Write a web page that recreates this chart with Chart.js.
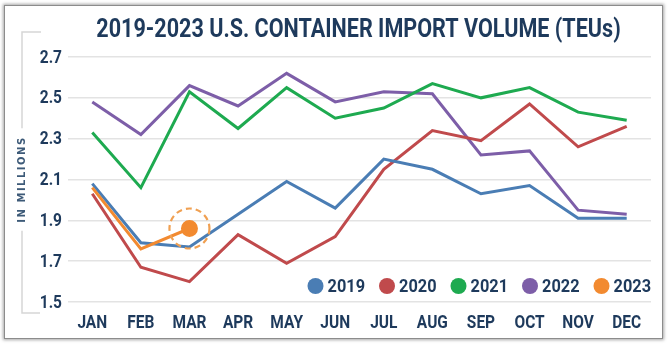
<!DOCTYPE html>
<html>
<head>
<meta charset="utf-8">
<script src="https://cdn.jsdelivr.net/npm/chart.js@4/dist/chart.umd.min.js"></script>
<style>
  html, body { margin: 0; padding: 0; background: #ffffff; }
  #wrap { position: relative; width: 669px; height: 344px; overflow: hidden; }
  #card {
    position: absolute; left: 4px; top: 5px; width: 657px; height: 332px;
    background: #fff; border: 1px solid #8c8c8c;
    box-shadow: 0 0 3px 1px rgba(0,0,0,0.35);
  }
  #chart { position: absolute; left: 0; top: 0; }
</style>
</head>
<body>
<div id="wrap">
  <div id="card"></div>
  <canvas id="chart" width="669" height="344"></canvas>
</div>
<script>
const months = ['JAN', 'FEB', 'MAR', 'APR', 'MAY', 'JUN', 'JUL', 'AUG', 'SEP', 'OCT', 'NOV', 'DEC'];
const years = ['2019', '2020', '2021', '2022', '2023'];

// TEUs, millions
const teu2019 = [2.08, 1.79, 1.77, 1.93, 2.09, 1.96, 2.20, 2.15, 2.03, 2.07, 1.91, 1.91];
const teu2020 = [2.03, 1.67, 1.60, 1.83, 1.69, 1.82, 2.15, 2.34, 2.29, 2.47, 2.26, 2.36];
const teu2021 = [2.33, 2.06, 2.53, 2.35, 2.55, 2.40, 2.45, 2.57, 2.50, 2.55, 2.43, 2.39];
const teu2022 = [2.48, 2.32, 2.56, 2.46, 2.62, 2.48, 2.53, 2.52, 2.22, 2.24, 1.95, 1.93];
const teu2023 = [2.06, 1.76, 1.86];

const yTicks = [1.5, 1.7, 1.9, 2.1, 2.3, 2.5, 2.7];

const titleText = '2019-2023 U.S. CONTAINER IMPORT VOLUME (TEUs)';
const lineColors = ['#4a7db4', '#c04a4c', '#1eaa50', '#7d5ea8', '#f28a30'];
const navy = '#1e3a5c';
const font = 'Roboto, "Liberation Sans", sans-serif';
const squeeze = 0.86;   // poor man's condensed face

const series = [teu2019, teu2020, teu2021, teu2022, teu2023];

// latest month of 2023 gets a dot and a dashed ring
const lastIdx = teu2023.length - 1;

const datasets = series.map((vals, i) => ({
  label: years[i],
  data: vals,
  borderColor: lineColors[i],
  backgroundColor: lineColors[i],
  borderWidth: 3,
  tension: 0,
  pointRadius: i === 4 ? vals.map((v, k) => k === lastIdx ? 7 : 0) : 0,
  pointHoverRadius: 0,
  order: i === 4 ? 0 : i + 1
}));

function narrowText(ctx, text, x, y, align, sx) {
  ctx.save();
  ctx.translate(x, y);
  ctx.scale(sx, 1);
  ctx.textAlign = align;
  ctx.fillText(text, 0, 0);
  ctx.restore();
}

const extras = {
  id: 'extras',
  afterDatasetsDraw(chart) {
    const ctx = chart.ctx;
    // dashed ring around the newest 2023 point
    const pt = chart.getDatasetMeta(4).data[lastIdx];
    ctx.save();
    ctx.strokeStyle = '#f0a052';
    ctx.lineWidth = 2.2;
    ctx.setLineDash([6, 4]);
    ctx.beginPath();
    ctx.arc(pt.x, pt.y, 20, 0, Math.PI * 2);
    ctx.stroke();
    ctx.restore();
  },
  afterDraw(chart) {
    const ctx = chart.ctx;
    const area = chart.chartArea;
    const xs = chart.scales.x, ys = chart.scales.y;

    // title
    ctx.save();
    ctx.fillStyle = navy;
    ctx.font = 'bold 26px ' + font;
    ctx.textBaseline = 'alphabetic';
    narrowText(ctx, titleText, (area.left + area.right) / 2 - 1, 37, 'center', 0.83);

    // tick labels, squeezed
    ctx.font = 'bold 18px ' + font;
    ctx.textBaseline = 'middle';
    xs.ticks.forEach((t, i) => {
      narrowText(ctx, months[i], xs.getPixelForTick(i), area.bottom + 21, 'center', squeeze);
    });
    yTicks.forEach(v => {
      narrowText(ctx, v.toFixed(1), area.left - 6, ys.getPixelForValue(v) + 1, 'right', squeeze);
    });
    ctx.restore();

    // legend inside the plot, right aligned
    ctx.save();
    ctx.font = 'bold 19px ' + font;
    ctx.textBaseline = 'middle';
    const ly = area.bottom - 16;
    const r = 8, gap = 4, spacing = 14;
    let x = area.right;
    for (let i = years.length - 1; i >= 0; i--) {
      const w = ctx.measureText(years[i]).width * squeeze;
      ctx.fillStyle = navy;
      narrowText(ctx, years[i], x, ly + 1, 'right', squeeze);
      x -= w + gap;
      ctx.fillStyle = lineColors[i];
      ctx.beginPath();
      ctx.arc(x - r, ly, r, 0, Math.PI * 2);
      ctx.fill();
      x -= 2 * r + spacing;
    }
    ctx.restore();

    // "IN MILLIONS" bracket on the left
    const bx = 22;
    const midY = (area.top + area.bottom) / 2;
    ctx.save();
    ctx.font = 'bold 10px "DejaVu Sans", sans-serif';
    ctx.letterSpacing = '1.5px';
    const label = 'IN MILLIONS';
    const tw = ctx.measureText(label).width;
    ctx.translate(bx, midY);
    ctx.rotate(-Math.PI / 2);
    ctx.fillStyle = '#3d5a78';
    ctx.textAlign = 'center';
    ctx.textBaseline = 'middle';
    ctx.fillText(label, 0, 0);
    ctx.restore();

    ctx.save();
    ctx.strokeStyle = '#d6d6d6';
    ctx.lineWidth = 1.5;
    ctx.beginPath();
    ctx.moveTo(bx + 19, area.top - 25);
    ctx.lineTo(bx, area.top - 25);
    ctx.lineTo(bx, midY - tw / 2 - 8);
    ctx.moveTo(bx, midY + tw / 2 + 8);
    ctx.lineTo(bx, area.bottom + 11);
    ctx.lineTo(bx + 18, area.bottom + 11);
    ctx.stroke();
    ctx.restore();
  }
};

new Chart(document.getElementById('chart'), {
  type: 'line',
  data: { labels: months, datasets },
  plugins: [extras],
  options: {
    responsive: false,
    animation: false,
    events: [],
    layout: { padding: { top: 57, right: 18, bottom: 0, left: 0 } },
    plugins: {
      legend: { display: false },
      tooltip: { enabled: false },
      title: { display: false }
    },
    scales: {
      x: {
        offset: true,
        grid: { display: false, drawTicks: false },
        border: { display: false },
        afterFit(scale) { scale.height = 42; },
        ticks: {
          color: 'rgba(0,0,0,0)',
          font: { family: font, size: 18, weight: 'bold' },
          padding: 10,
          maxRotation: 0,
          autoSkip: false
        }
      },
      y: {
        min: yTicks[0],
        max: yTicks[yTicks.length - 1],
        afterBuildTicks(scale) {
          scale.ticks = yTicks.map(v => ({ value: v }));
        },
        afterFit(scale) { scale.width = 68; },
        grid: { color: '#e3e3e3', lineWidth: 1.5, drawTicks: false },
        border: { display: false },
        ticks: {
          color: 'rgba(0,0,0,0)',
          font: { family: font, size: 18, weight: 'bold' },
          padding: 6
        }
      }
    }
  }
});
</script>
</body>
</html>
